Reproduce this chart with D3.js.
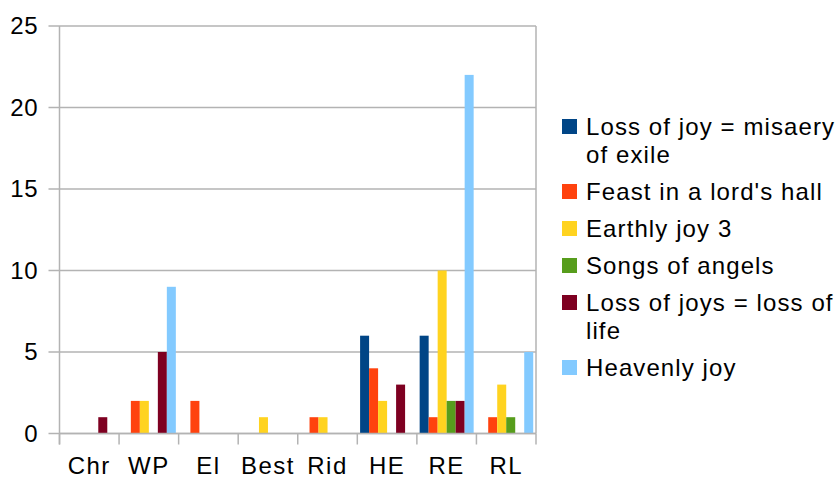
<!DOCTYPE html>
<html><head><meta charset="utf-8">
<script src="https://cdn.jsdelivr.net/npm/d3@7"></script>
<style>body{margin:0;background:#fff}svg{display:block}text{font-family:"Liberation Sans",Arial,sans-serif;fill:#000}</style>
</head><body><svg id="c" width="840" height="479"></svg>
<script>
const categories = ["Chr","WP","El","Best","Rid","HE","RE","RL"];
const seriesNames = [["Loss of joy = misaery","of exile"],["Feast in a lord's hall"],["Earthly joy 3"],["Songs of angels"],["Loss of joys = loss of","life"],["Heavenly joy"]];
const seriesColors = ["#004586","#ff420e","#ffd320","#579d1c","#7e0021","#83caff"];
const lossJoyExile = [0,0,0,0,0,6,6,0];
const feastHall    = [0,2,2,0,1,4,1,1];
const earthlyJoy3  = [0,2,0,1,1,2,10,3];
const songsAngels  = [0,0,0,0,0,0,2,1];
const lossJoysLife = [1,5,0,0,0,3,2,0];
const heavenlyJoy  = [0,9,0,0,0,0,22,5];
const yTicks = [0,5,10,15,20,25];
const allSeries = [lossJoyExile,feastHall,earthlyJoy3,songsAngels,lossJoysLife,heavenlyJoy];

const svg = d3.select("#c");
const L=59.5, R=536, T=26, B=433.5;
const x0 = d3.scaleBand().domain(categories).range([L,R]).padding(0);
const cw = x0.bandwidth(), bw = 9, pad=(cw-6*bw)/2;
const x1 = d3.scaleBand().domain(d3.range(6)).range([pad, pad+6*bw]).padding(0);
const y = d3.scaleLinear().domain([0,25]).range([B,T]);

// gridlines
svg.append("g").selectAll("line").data(yTicks).join("line")
  .attr("x1",L-11).attr("x2",R).attr("y1",d=>y(d)).attr("y2",d=>y(d))
  .attr("stroke","#b3b3b3").attr("stroke-width",1.5);
svg.append("line").attr("x1",R).attr("x2",R).attr("y1",T).attr("y2",B).attr("stroke","#b3b3b3").attr("stroke-width",1.5);

// bars
const g = svg.append("g");
categories.forEach((c,i)=>{
  allSeries.forEach((s,j)=>{
    if(s[i]>0) g.append("rect").attr("x",x0(c)+x1(j)).attr("width",x1.bandwidth())
      .attr("y",y(s[i])).attr("height",y(0)-y(s[i])).attr("fill",seriesColors[j]);
  });
});

// axes
const ya = d3.axisLeft(y).tickValues(yTicks).tickSize(0).tickPadding(10);
const yg = svg.append("g").attr("transform",`translate(${L-11},0)`).call(ya);
yg.select(".domain").remove();
yg.selectAll("text").attr("font-size",24).attr("font-family","Liberation Sans, Arial, sans-serif").attr("fill","#000").attr("letter-spacing",0.8);
svg.append("line").attr("x1",L).attr("x2",L).attr("y1",T).attr("y2",B+11).attr("stroke","#b3b3b3").attr("stroke-width",1.5);
svg.append("line").attr("x1",L).attr("x2",R).attr("y1",B).attr("y2",B).attr("stroke","#b3b3b3").attr("stroke-width",1.5);
const xticks = d3.range(categories.length+1).map(i=>L+i*cw);
svg.append("g").selectAll("line").data(xticks).join("line")
  .attr("x1",d=>d).attr("x2",d=>d).attr("y1",B).attr("y2",B+11).attr("stroke","#b3b3b3").attr("stroke-width",1.5);
svg.append("g").selectAll("text").data(categories).join("text")
  .attr("x",d=>x0(d)+cw/2).attr("y",474).attr("text-anchor","middle").attr("font-size",24)
  .attr("letter-spacing",1.5).text(d=>d);

// legend
const lg = svg.append("g");
let ly = 127;
seriesNames.forEach((lines,j)=>{
  lg.append("rect").attr("x",562).attr("y",ly-8).attr("width",15).attr("height",15).attr("fill",seriesColors[j]);
  lines.forEach((t,k)=>{
    lg.append("text").attr("x",586).attr("y",ly+k*28).attr("dy","0.35em").attr("font-size",24)
      .attr("letter-spacing",1.1).text(t);
  });
  ly += (lines.length-1)*28 + 37;
});
</script></body></html>
